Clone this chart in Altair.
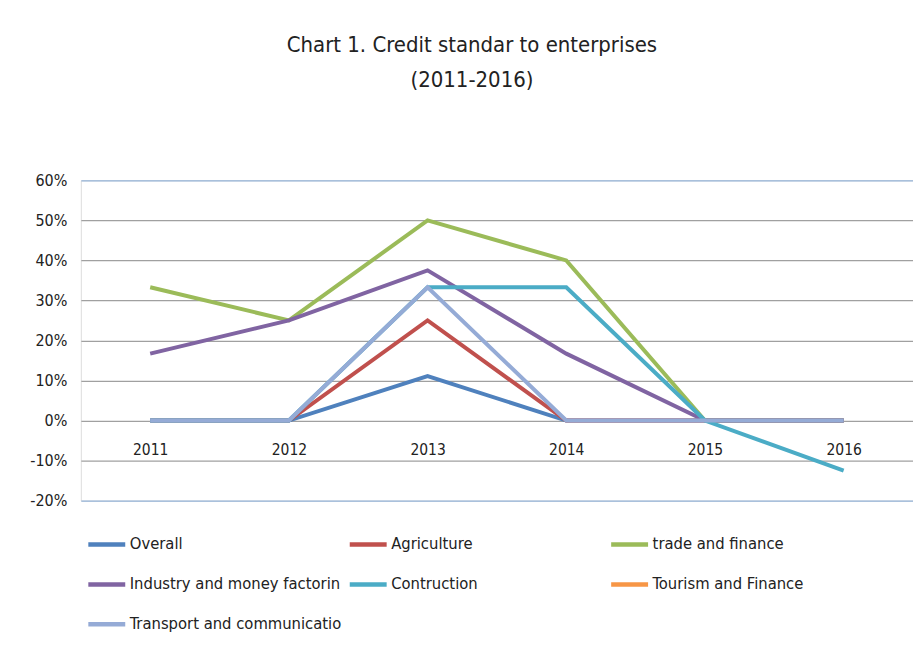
import altair as alt
import pandas as pd

years = ["2011", "2012", "2013", "2014", "2015", "2016"]
series = [
    "Overall",
    "Agriculture",
    "trade and finance",
    "Industry and money factorin",
    "Contruction",
    "Tourism and Finance",
    "Transport and communicatio",
]
overall = [0.0, 0.0, 0.111, 0.0, 0.0, 0.0]
agriculture = [0.0, 0.0, 0.25, 0.0, 0.0, 0.0]
trade = [0.333, 0.25, 0.50, 0.40, 0.0, 0.0]
industry = [0.167, 0.25, 0.375, 0.167, 0.0, 0.0]
construction = [0.0, 0.0, 0.333, 0.333, 0.0, -0.125]
tourism = [None, None, None, None, None, None]
transport = [0.0, 0.0, 0.333, 0.0, 0.0, 0.0]
colors = ["#4F81BD", "#C0504D", "#9BBB59", "#8064A2", "#4BACC6", "#F79646", "#95ABD6"]

values = [overall, agriculture, trade, industry, construction, tourism, transport]
rows = []
for name, vals in zip(series, values):
    for y, v in zip(years, vals):
        rows.append({"year": y, "series": name, "value": v})
df = pd.DataFrame(rows)

FONT = "Liberation Sans Narrow, Arial Narrow, DejaVu Sans Condensed, sans-serif"

chart = alt.Chart(df).mark_line(strokeWidth=4).encode(
    x=alt.X("year:O", sort=years,
            scale=alt.Scale(type="point", padding=0.5),
            axis=alt.Axis(title=None, labelAngle=0, domain=False, ticks=False,
                          offset=-80, labelPadding=22, labelFontSize=15.5,
                          labelColor="#222222", labelFont=FONT, grid=False)),
    y=alt.Y("value:Q",
            scale=alt.Scale(domain=[-0.2, 0.6], nice=False),
            axis=alt.Axis(title=None, values=[-0.2, -0.1, 0, 0.1, 0.2, 0.3, 0.4, 0.5, 0.6],
                          labelExpr="round(datum.value*100) + '%'",
                          domain=False, ticks=False, labelPadding=14, minExtent=68,
                          labelFontSize=16, labelColor="#222222", labelFont=FONT,
                          grid=True,
                          gridColor=alt.condition("datum.value > 0.55 || datum.value < -0.15",
                                                  alt.value("#95B3D7"), alt.value("#A0A0A0")),
                          gridWidth=1.3)),
    color=alt.Color("series:N", sort=series,
                    scale=alt.Scale(domain=series, range=colors),
                    legend=alt.Legend(title=None, orient="none", legendX=5, legendY=344,
                                      direction="horizontal",
                                      columns=3, gridAlign="all", columnPadding=-2,
                                      rowPadding=10, symbolType="stroke",
                                      symbolSize=1369, symbolStrokeWidth=4.5,
                                      labelFontSize=16.5, labelFont=FONT, labelColor="#222222",
                                      labelLimit=300, labelOffset=2)),
).properties(
    width=834,
    height=321,
    padding={"left": 5, "top": 25, "right": 0, "bottom": 0},
    title=alt.TitleParams(text=["Chart 1. Credit standar to enterprises", "(2011-2016)"],
                          fontSize=22, font=FONT, fontWeight="normal", color="#222222",
                          lineHeight=35, offset=81, anchor="middle", dx=-25),
).configure_view(
    stroke="#95B3D7", strokeWidth=1.5
).configure(background="white")

chart.save("out.html", embed_options={"renderer": "svg", "actions": False})
